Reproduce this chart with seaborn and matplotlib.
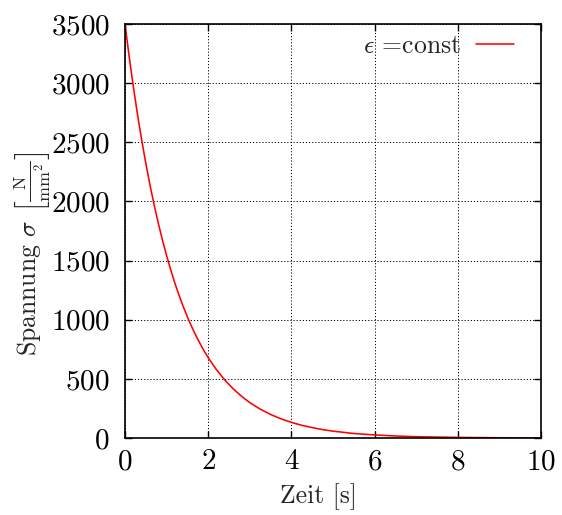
import matplotlib
matplotlib.use("Agg")
import matplotlib.pyplot as plt
import seaborn as sns
import pandas as pd

# Data
zeit = [0, 0.1, 0.2, 0.3, 0.4, 0.5, 0.6, 0.7, 0.8, 0.9, 1.0, 1.1, 1.2, 1.3, 1.4,
        1.5, 1.6, 1.7, 1.8, 1.9, 2.0, 2.2, 2.4, 2.6, 2.8, 3.0, 3.25, 3.5, 3.75,
        4.0, 4.25, 4.5, 4.75, 5.0, 5.5, 6.0, 6.5, 7.0, 8.0, 9.0, 10.0]
spannung = [3500, 3225, 2971, 2737, 2521, 2323, 2140, 1971, 1816, 1673, 1542,
            1420, 1308, 1205, 1111, 1023, 943, 869, 801, 737, 679, 577, 490,
            416, 353, 299, 244, 199, 162, 132, 107, 88, 71, 58, 38, 26, 17, 11,
            5, 2, 1]
x_ticks = [0, 2, 4, 6, 8, 10]
y_ticks = [0, 500, 1000, 1500, 2000, 2500, 3000, 3500]
series_label = r"$\epsilon$ =const"

sns.set_style("ticks")
plt.rcParams["font.family"] = "serif"
plt.rcParams["font.serif"] = ["cmr10", "DejaVu Serif"]
plt.rcParams["mathtext.fontset"] = "cm"
plt.rcParams["axes.formatter.use_mathtext"] = True

df = pd.DataFrame({"Zeit": zeit, "Spannung": spannung})

fig = plt.figure(figsize=(5.62, 5.15), dpi=100)
ax = fig.add_axes([125 / 562, 1 - 438 / 515, (541 - 125) / 562, (438 - 24) / 515])

sns.lineplot(data=df, x="Zeit", y="Spannung", ax=ax, color="#ff0000",
             linewidth=1.15, label=series_label)

ax.set_xlim(0, 10)
ax.set_ylim(0, 3500)
ax.set_xticks(x_ticks)
ax.set_yticks(y_ticks)
ax.tick_params(direction="in", length=5, width=1.0, top=True, right=True,
               labelsize=21, colors="black")
ax.tick_params(axis="y", pad=11)
ax.tick_params(axis="x", pad=8)
ax.grid(True, linestyle=(0, (1.2, 2.0)), color="black", linewidth=0.7)
for s in ax.spines.values():
    s.set_linewidth(1.2)
    s.set_color("black")

ax.set_xlabel("Zeit [s]", fontsize=18.5)
ax.set_ylabel(r"Spannung $\sigma$ $\left[\frac{\mathrm{N}}{\mathrm{mm}^2}\right]$",
              fontsize=18.5)
ax.xaxis.set_label_coords(0.466, -0.109)
ax.yaxis.set_label_coords(-0.172, 0.444)

leg = ax.legend(loc="upper right", frameon=False, markerfirst=False,
                fontsize=18.5, handlelength=1.48, borderaxespad=0.0,
                handletextpad=0.6, bbox_to_anchor=(0.961, 1.0))

fig.savefig("out.png", dpi=100)
